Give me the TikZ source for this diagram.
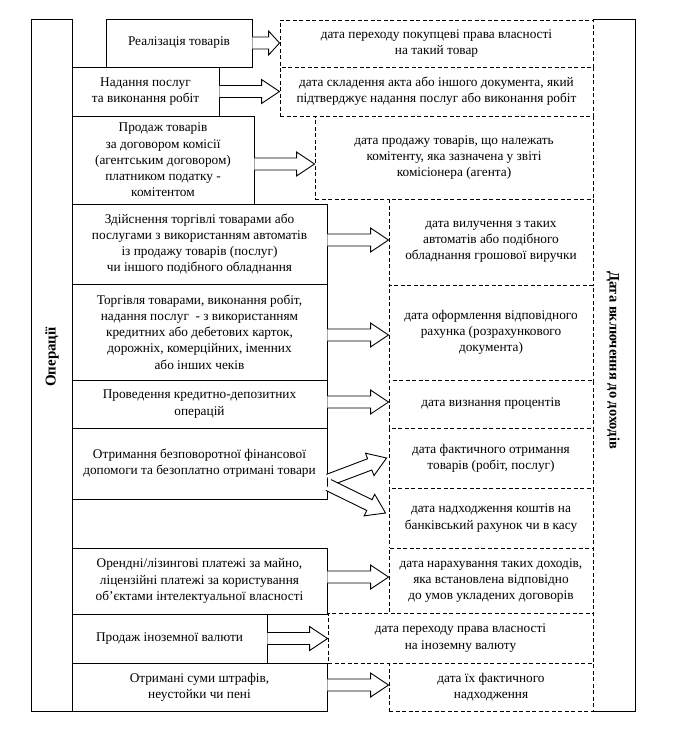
\documentclass[tikz,border=0pt]{standalone}
\usepackage{fontspec}
\setmainfont{Liberation Serif}
\usetikzlibrary{calc}
\tikzset{
  base/.style={rectangle, inner sep=1pt, align=center, font=\fontsize{13.3}{16.2}\selectfont},
  opbox/.style={base, draw, line width=0.9pt, fill=white},
  datebox/.style={base, draw, dash pattern=on 4pt off 2.5pt, line width=0.9pt, fill=white},
  blockarrow/.style={draw, line width=0.9pt, fill=white, line join=miter},
  vlabel/.style={font=\fontsize{14.5}{16}\selectfont\bfseries},
}
\newcommand\barr[3][18pt]{%
  \coordinate (hb) at ($(#3)!#1!(#2)$);
  \draw[blockarrow] ($(#2)!6pt!90:(#3)$) -- ($(hb)!6pt!-90:(#2)$) -- ($(hb)!12pt!-90:(#2)$)
    -- (#3) -- ($(hb)!12pt!90:(#2)$) -- ($(hb)!6pt!90:(#2)$) -- ($(#2)!6pt!-90:(#3)$);
}
\begin{document}
\begin{tikzpicture}[x=1pt,y=-1pt]
\useasboundingbox (0,0) rectangle (676,733);
% side columns
\node[opbox, minimum width=41pt, minimum height=692pt] (ops) at (51.5,365) {};
\node[vlabel, font=\fontsize{15}{17}\selectfont\bfseries, rotate=90] (opsl) at (52,357) {Операції};
\node[base, minimum width=42pt, minimum height=691pt] (inc) at (614,365.5) {};
\draw[line width=0.9pt] (inc.north west) -- (inc.north east) -- (inc.south east) -- (inc.south west);
\node[vlabel, rotate=-90] (incl) at (613,360) {Дата включення до доходів};
% operations
\node[opbox, minimum width=146pt, minimum height=48pt] (o1) at (179,43) {Реалізація товарів};
\node[opbox, minimum width=147pt, minimum height=49pt] (o2) at (145.5,91.5) {Надання послуг\\та виконання робіт};
\node[opbox, minimum width=182pt, minimum height=88pt] (o3) at (163,160) {Продаж товарів\\за договором комісії\\(агентським договором)\\платником податку -\\комітентом};
\node[opbox, minimum width=255pt, minimum height=80pt] (o4) at (199.5,244) {Здійснення торгівлі товарами або\\послугами з використанням автоматів\\із продажу товарів (послуг)\\чи іншого подібного обладнання};
\node[opbox, minimum width=255pt, minimum height=96pt] (o5) at (199.5,332) {Торгівля товарами, виконання робіт,\\надання послуг \ - з використанням\\кредитних або дебетових карток,\\дорожніх, комерційних, іменних\\або інших чеків};
\node[opbox, minimum width=255pt, minimum height=48pt] (o6) at (199.5,404) {Проведення кредитно-депозитних\\операцій};
\node[opbox, minimum width=255pt, minimum height=71pt] (o7) at (199.5,463.5) {Отримання безповоротної фінансової\\допомоги та безоплатно отримані товари};
\node[opbox, minimum width=255pt, minimum height=66pt] (o8) at (199.5,581) {Орендні/лізингові платежі за майно,\\ліцензійні платежі за користування\\об'єктами інтелектуальної власності};
\node[opbox, minimum width=195pt, minimum height=49pt] (o9) at (169.5,638.5) {Продаж іноземної валюти};
\node[opbox, minimum width=255pt, minimum height=48pt] (o10) at (199.5,687) {Отримані суми штрафів,\\неустойки чи пені};
% dates
\node[datebox, minimum width=313pt, minimum height=47pt] (d1) at (436.5,43.5) {дата переходу покупцеві права власності\\на такий товар};
\node[datebox, minimum width=313pt, minimum height=49pt] (d2) at (436.5,91.5) {дата складення акта або іншого документа, який\\підтверджує надання послуг або виконання робіт};
\node[datebox, minimum width=278pt, minimum height=83pt] (d3) at (454,157.5) {дата продажу товарів, що належать\\комітенту, яка зазначена у звіті\\комісіонера (агента)};
\node[datebox, minimum width=204pt, minimum height=86pt] (d4) at (491,242) {дата вилучення з таких\\автоматів або подібного\\обладнання грошової виручки};
\node[datebox, minimum width=204pt, minimum height=95pt] (d5) at (491,332.5) {дата оформлення відповідного\\рахунка (розрахункового\\документа)};
\node[datebox, minimum width=204pt, minimum height=48pt] (d6) at (491,404) {дата визнання процентів};
\node[datebox, minimum width=204pt, minimum height=60pt] (d7) at (491,458) {дата фактичного отримання\\товарів (робіт, послуг)};
\node[datebox, minimum width=204pt, minimum height=60pt] (d8) at (491,518) {дата надходження коштів на\\банківський рахунок чи в касу};
\node[datebox, minimum width=204pt, minimum height=65pt] (d9) at (491,580.5) {дата нарахування таких доходів,\\яка встановлена відповідно\\до умов укладених договорів};
\node[datebox, minimum width=265pt, minimum height=50pt] (d10) at (460.5,638) {дата переходу права власності\\на іноземну валюту};
\node[datebox, minimum width=204pt, minimum height=48pt] (d11) at (491,687) {дата їх фактичного\\надходження};
% arrow end points
\coordinate (e1) at (o1.east -| d1.west);
\coordinate (e2) at (o2.east -| d2.west);
\coordinate (s3) at ($(o3.east)+(0,4)$);   \coordinate (e3) at (s3 -| d3.west);
\coordinate (s4) at ($(o4.east)+(0,-4)$);  \coordinate (e4) at (s4 -| d4.west);
\coordinate (s5) at ($(o5.east)+(0,3)$);   \coordinate (e5) at (s5 -| d5.west);
\coordinate (s6) at ($(o6.east)+(0,-2)$);  \coordinate (e6) at (s6 -| d6.west);
\coordinate (s7a) at ($(o7.east)+(1,16.5)$); \coordinate (e7a) at ($(d7.west)+(-2,0)$);
\coordinate (s7b) at ($(o7.east)+(1,21.5)$); \coordinate (e7b) at ($(d8.west)+(-3,-5)$);
\coordinate (s8) at ($(o8.east)+(0,-4)$);  \coordinate (e8) at (s8 -| d8.west);
\coordinate (e9) at (o9.east -| d10.west);
\coordinate (s10) at ($(o10.east)+(0,-2)$); \coordinate (e10) at (s10 -| d11.west);
% arrows
\barr[11pt]{o1.east}{e1}
\barr{o2.east}{e2}
\barr{s3}{e3}
\barr{s4}{e4}
\barr{s5}{e5}
\barr{s6}{e6}
\barr{s7a}{e7a}
\barr{s7b}{e7b}
\barr{s8}{e8}
\barr{o9.east}{e9}
\barr{s10}{e10}
\end{tikzpicture}
\end{document}
